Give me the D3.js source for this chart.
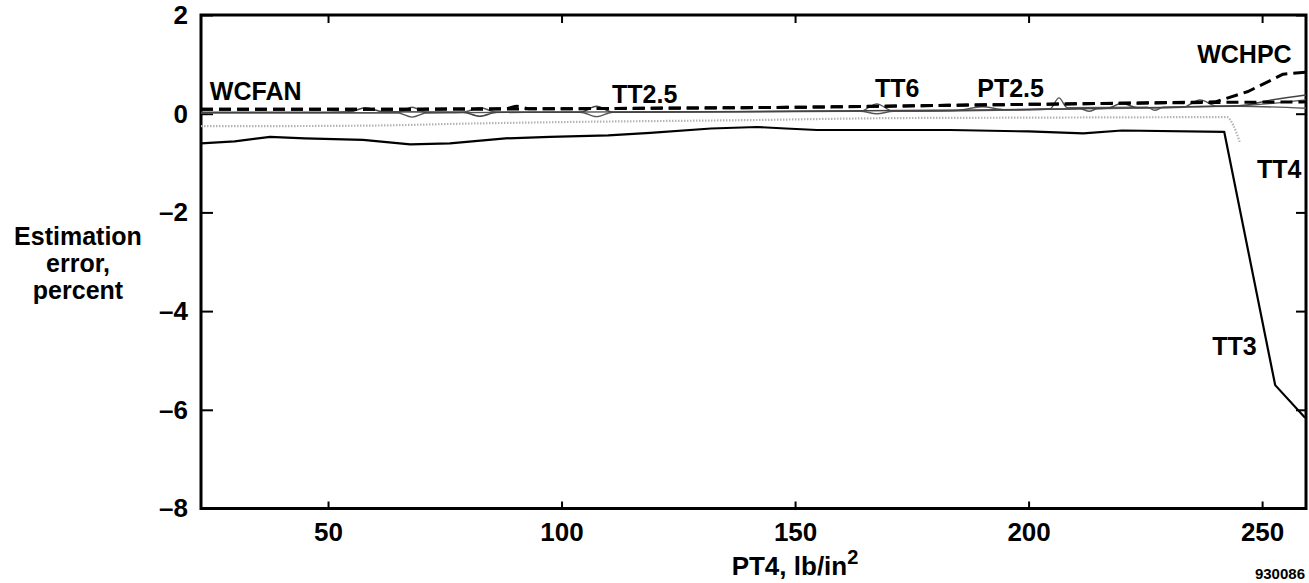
<!DOCTYPE html>
<html>
<head>
<meta charset="utf-8">
<script src="https://cdn.jsdelivr.net/npm/d3@7"></script>
<style>
  body { margin: 0; background: #fff; }
  svg { display: block; font-family: "Liberation Sans", Arial, Helvetica, sans-serif; font-weight: bold; }
  .axis text { font-size: 26px; font-weight: bold; fill: #000; }
  .axis path { display: none; }
  .axis line { stroke: #000; stroke-width: 2px; }
  .series-label { font-size: 25px; }
</style>
</head>
<body>
<div class="container"></div>
<script>
const w = 1309;
const h = 583;
const margin = { top: 15, right: 3, bottom: 74.5, left: 201 };
const width = w - margin.left - margin.right;
const height = h - margin.top - margin.bottom;

// PT4 (lb/in^2), estimation error (percent)
const xDomain = [22.8, 259.4];
const yDomain = [-8, 2];
const xTicks = [50, 100, 150, 200, 250];
const yTicks = [-8, -6, -4, -2, 0, 2];

const wcfan = [[22.8, 0.09], [60, 0.09], [88, 0.1], [90.5, 0.15], [93, 0.1], [120, 0.11], [150, 0.13], [183, 0.17], [210, 0.2], [242.5, 0.23], [259.4, 0.24]];
const wchpc = [[22.8, 0.09], [60, 0.09], [100, 0.1], [150, 0.13], [183, 0.17], [210, 0.2], [240, 0.24], [247, 0.45], [254.5, 0.8], [259.4, 0.84]];
const tt25 = [[22.8, 0.03], [50, 0.03], [54.7, 0.04], [58, 0.12], [61.8, 0.04], [78.9, 0.03], [82.5, -0.05], [86.2, 0.03], [104, 0.03], [107.5, 0.15], [111, 0.03], [150, 0.05], [180, 0.07], [216.8, 0.11], [220, 0.21], [223.2, 0.12], [240, 0.15], [245, 0.16], [252, 0.28], [259.4, 0.38]];
const tt6 = [[22.8, 0.02], [64.8, 0.02], [68, 0.13], [71.2, 0.02], [104, 0.03], [107.5, -0.06], [111, 0.03], [164, 0.05], [167.5, 0.2], [171, 0.05], [200, 0.08], [211, 0.1], [213, 0.05], [214.7, 0.1], [233, 0.13], [236.7, 0.28], [240.4, 0.15], [245, 0.16], [259.4, 0.28]];
const pt25 = [[22.8, 0.02], [64.8, 0.02], [68, -0.07], [71.2, 0.02], [78.9, 0.03], [82.5, 0.12], [86.2, 0.03], [164, 0.05], [167.5, 0.0], [171, 0.05], [185, 0.07], [190, 0.14], [195, 0.08], [204.6, 0.1], [206.5, 0.32], [208.3, 0.12], [225.4, 0.13], [227, 0.07], [228.8, 0.13], [245, 0.15], [259.4, 0.11]];
const tt4 = [[22.8, -0.25], [40, -0.25], [60, -0.24], [80, -0.2], [100, -0.17], [140, -0.13], [170, -0.09], [200, -0.08], [242.5, -0.07], [243.8, -0.23], [245.2, -0.57]];
const tt3 = [[22.8, -0.6], [30, -0.56], [37.6, -0.47], [45, -0.5], [57.5, -0.53], [67.6, -0.62], [76.1, -0.6], [88, -0.5], [97.5, -0.47], [110, -0.44], [119, -0.39], [132, -0.3], [141.9, -0.27], [148, -0.3], [154.7, -0.33], [183.2, -0.33], [200, -0.36], [211.7, -0.4], [220, -0.34], [241.9, -0.37], [252.8, -5.5], [259.2, -6.16]];

// where each series name is written, in data units
const labelNames = ["WCFAN", "TT2.5", "TT6", "PT2.5", "WCHPC", "TT4", "TT3"];
const labelAt = [[24.7, 0.28], [110.8, 0.21], [167.1, 0.34], [189, 0.34], [236.1, 1.02], [248.9, -1.3], [239.3, -4.89]];

const svg = d3.select('.container').append('svg')
    .attr('width', w)
    .attr('height', h);

const chart = svg.append('g')
    .attr('transform', `translate(${margin.left}, ${margin.top})`);

const x = d3.scaleLinear().domain(xDomain).range([0, width]);
const y = d3.scaleLinear().domain(yDomain).range([height, 0]);

const fmt = d => d < 0 ? "\u2013" + Math.abs(d) : String(d);

// axes, ticks pointing into the frame
chart.append('g').attr('class', 'axis')
    .call(d3.axisLeft(y).tickValues(yTicks).tickSize(-12).tickPadding(13).tickFormat(fmt));
chart.append('g').attr('class', 'axis')
    .attr('transform', `translate(${width}, 0)`)
    .call(d3.axisRight(y).tickValues(yTicks).tickSize(-10).tickFormat(''));
chart.append('g').attr('class', 'axis')
    .attr('transform', `translate(0, ${height})`)
    .call(d3.axisBottom(x).tickValues(xTicks).tickSize(-7).tickPadding(14).tickFormat(d3.format('d')));
chart.append('g').attr('class', 'axis')
    .call(d3.axisTop(x).tickValues(xTicks).tickSize(-8).tickFormat(''));

chart.append('rect')
    .attr('width', width)
    .attr('height', height)
    .attr('fill', 'none')
    .attr('stroke', '#000')
    .attr('stroke-width', 3);

const smooth = d3.line()
    .x(d => x(d[0]))
    .y(d => y(d[1]))
    .curve(d3.curveMonotoneX);

const straight = d3.line()
    .x(d => x(d[0]))
    .y(d => y(d[1]));

const series = [
  { data: tt4, stroke: '#b4b4b4', width: 2.2, dash: '1.5,1.5', gen: smooth },
  { data: tt6, stroke: '#555', width: 1.4, dash: null, gen: smooth },
  { data: pt25, stroke: '#555', width: 1.4, dash: null, gen: smooth },
  { data: tt25, stroke: '#444', width: 1.5, dash: null, gen: smooth },
  { data: wcfan, stroke: '#000', width: 3, dash: '12,6', gen: smooth },
  { data: wchpc, stroke: '#000', width: 3, dash: '12,6', gen: straight },
  { data: tt3, stroke: '#000', width: 2.2, dash: null, gen: straight }
];

chart.append('g')
    .selectAll('path')
    .data(series)
    .enter().append('path')
    .attr('d', d => d.gen(d.data))
    .attr('fill', 'none')
    .attr('stroke', d => d.stroke)
    .attr('stroke-width', d => d.width)
    .attr('stroke-linejoin', 'round')
    .attr('stroke-dasharray', d => d.dash);

chart.append('g')
    .selectAll('text')
    .data(labelNames)
    .enter().append('text')
    .attr('class', 'series-label')
    .attr('x', (d, i) => x(labelAt[i][0]))
    .attr('y', (d, i) => y(labelAt[i][1]))
    .text(d => d);

// y axis title
const ytitle = svg.append('text')
    .attr('text-anchor', 'middle')
    .attr('font-size', 25);
["Estimation", "error,", "percent"].forEach((t, i) => {
  ytitle.append('tspan').attr('x', 78).attr('y', 245 + i * 27).text(t);
});

// x axis title
const xtitle = svg.append('text')
    .attr('text-anchor', 'middle')
    .attr('x', 795)
    .attr('y', 575)
    .attr('font-size', 26);
xtitle.append('tspan').text('PT4, lb/in');
xtitle.append('tspan').attr('font-size', 20).attr('dy', -11).text('2');

svg.append('text')
    .attr('text-anchor', 'end')
    .attr('x', 1305)
    .attr('y', 579)
    .attr('font-size', 15)
    .text('930086');
</script>
</body>
</html>
